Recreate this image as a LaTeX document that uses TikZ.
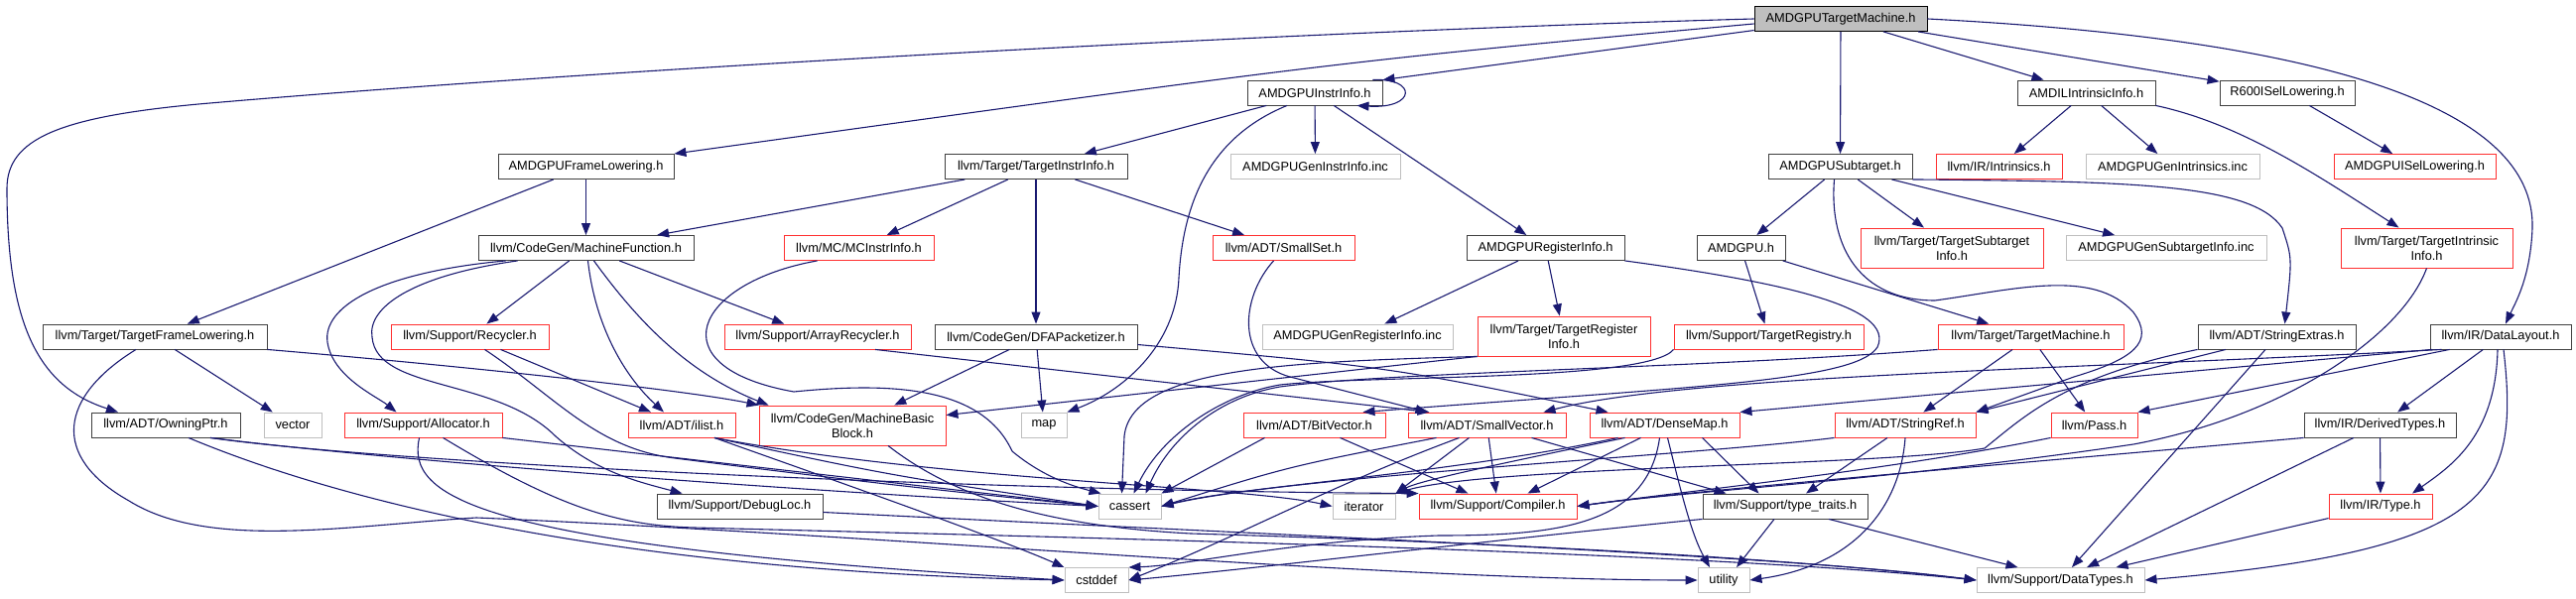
\documentclass[tikz,border=0pt]{standalone}
\usepackage{fontspec}
\setmainfont{Liberation Sans}
\usetikzlibrary{arrows.meta}

\definecolor{depblue}{HTML}{191970}
\definecolor{boxdark}{HTML}{404040}
\definecolor{boxgray}{HTML}{BFBFBF}
\definecolor{boxred}{HTML}{FF3030}

\tikzset{
  hdr/.style={draw=boxdark, fill=white, line width=0.9pt, minimum height=25pt, inner xsep=3pt, inner ysep=2pt,
    align=center, font=\fontsize{12.8}{15}\selectfont},
  hdrred/.style={hdr, draw=boxred},
  sys/.style={hdr, draw=boxgray},
  cur/.style={hdr, draw=black, fill=boxgray},
  tall/.style={minimum height=40pt},
  dep/.style={draw=depblue, line width=1.1pt, -{Triangle[length=12pt,width=9pt]}}
}

\begin{document}
\begin{tikzpicture}[x=1pt, y=-1pt]
  \useasboundingbox (0,0) rectangle (2596,604);

  \node[cur, minimum width=174pt] (tm) at (1855,19) {AMDGPUTargetMachine.h};

  \node[hdr, minimum width=136pt] (ii) at (1325,93.5) {AMDGPUInstrInfo.h};
  \node[hdr, minimum width=139pt] (amdil) at (2102.5,93.5) {AMDILIntrinsicInfo.h};
  \node[hdr, minimum width=136pt] (r600) at (2305,93.5) {R600ISelLowering.h};

  \node[hdr, minimum width=177pt] (fl) at (590.5,168) {AMDGPUFrameLowering.h};
  \node[hdr, minimum width=184pt] (tii) at (1044,168) {llvm/Target/TargetInstrInfo.h};
  \node[sys, minimum width=171pt] (geninstr) at (1325.5,168) {AMDGPUGenInstrInfo.inc};
  \node[hdr, minimum width=145pt] (st) at (1854.5,168) {AMDGPUSubtarget.h};
  \node[hdrred, minimum width=127pt] (intr) at (2014.5,168) {llvm/IR/Intrinsics.h};
  \node[sys, minimum width=175pt] (genintr) at (2189.5,168) {AMDGPUGenIntrinsics.inc};
  \node[hdrred, minimum width=163pt] (isel) at (2433.5,168) {AMDGPUISelLowering.h};

  \node[hdr, minimum width=217pt] (mf) at (590.5,250) {llvm/CodeGen/MachineFunction.h};
  \node[hdrred, minimum width=151pt] (mcii) at (865.5,250) {llvm/MC/MCInstrInfo.h};
  \node[hdrred, minimum width=143pt] (sset) at (1293.5,250) {llvm/ADT/SmallSet.h};
  \node[hdr, minimum width=159pt] (ri) at (1557.5,250) {AMDGPURegisterInfo.h};
  \node[hdr, minimum width=89pt] (amdgpu) at (1754.5,250) {AMDGPU.h};
  \node[hdrred, tall, minimum width=184pt] (tsi) at (1967,250) {llvm/Target/TargetSubtarget\\Info.h};
  \node[sys, minimum width=202pt] (gensub) at (2183,250) {AMDGPUGenSubtargetInfo.inc};
  \node[hdrred, tall, minimum width=173pt] (tintr) at (2445.5,250) {llvm/Target/TargetIntrinsic\\Info.h};

  \node[hdr, minimum width=226pt] (tfl) at (156,339.5) {llvm/Target/TargetFrameLowering.h};
  \node[hdrred, minimum width=159pt] (recy) at (473.5,339.5) {llvm/Support/Recycler.h};
  \node[hdrred, minimum width=188pt] (arec) at (824,339.5) {llvm/Support/ArrayRecycler.h};
  \node[hdr, minimum width=204pt] (dfa) at (1044,339.5) {llvm/CodeGen/DFAPacketizer.h};
  \node[sys, minimum width=192pt] (genreg) at (1368,339.5) {AMDGPUGenRegisterInfo.inc};
  \node[hdrred, tall, minimum width=174pt] (tri) at (1576,339) {llvm/Target/TargetRegister\\Info.h};
  \node[hdrred, minimum width=191pt] (treg) at (1782.5,339.5) {llvm/Support/TargetRegistry.h};
  \node[hdrred, minimum width=187pt] (tmach) at (2046.5,339.5) {llvm/Target/TargetMachine.h};
  \node[hdr, minimum width=159pt] (sext) at (2294.5,339.5) {llvm/ADT/StringExtras.h};
  \node[hdr, minimum width=142pt] (dl) at (2520,339.5) {llvm/IR/DataLayout.h};

  \node[hdr, minimum width=150pt] (owning) at (167,428.5) {llvm/ADT/OwningPtr.h};
  \node[sys, minimum width=58pt] (vector) at (295,428.5) {vector};
  \node[hdrred, minimum width=159pt] (alloc) at (426.5,428.5) {llvm/Support/Allocator.h};
  \node[hdrred, minimum width=108pt] (ilist) at (687,428.5) {llvm/ADT/ilist.h};
  \node[hdrred, tall, minimum width=188pt] (mbb) at (859,429) {llvm/CodeGen/MachineBasic\\Block.h};
  \node[sys, minimum width=46pt] (map) at (1052,428.5) {map};
  \node[hdrred, minimum width=143pt] (bitv) at (1324.5,428.5) {llvm/ADT/BitVector.h};
  \node[hdrred, minimum width=159pt] (svec) at (1498.5,428.5) {llvm/ADT/SmallVector.h};
  \node[hdrred, minimum width=151pt] (dmap) at (1677.5,428.5) {llvm/ADT/DenseMap.h};
  \node[hdrred, minimum width=142pt] (sref) at (1920,428.5) {llvm/ADT/StringRef.h};
  \node[hdrred, minimum width=87pt] (pass) at (2110.5,428.5) {llvm/Pass.h};
  \node[hdr, minimum width=153pt] (dtypes) at (2398.5,428.5) {llvm/IR/DerivedTypes.h};

  \node[hdr, minimum width=167pt] (dloc) at (745.5,510.5) {llvm/Support/DebugLoc.h};
  \node[sys, minimum width=63pt] (cassert) at (1138.5,510.5) {cassert};
  \node[sys, minimum width=63pt] (iter) at (1374.5,510.5) {iterator};
  \node[hdrred, minimum width=159pt] (comp) at (1509.5,510.5) {llvm/Support/Compiler.h};
  \node[hdr, minimum width=166pt] (ttraits) at (1799,510.5) {llvm/Support/type\_traits.h};
  \node[hdrred, minimum width=104pt] (type) at (2399,510.5) {llvm/IR/Type.h};

  \node[sys, minimum width=64pt] (cstddef) at (1105,585) {cstddef};
  \node[sys, minimum width=52pt] (utility) at (1737,585) {utility};
  \node[sys, minimum width=169pt] (datat) at (2076.5,585) {llvm/Support/DataTypes.h};

  \draw[dep] (tm.west) .. controls (1300,32) and (600,70) .. (200,105) .. controls (60,118) and (7,140) .. (7,190) .. controls (7,330) and (40,390) .. ([xshift=-48pt]owning.north);
  \draw[dep] ([yshift=-5pt]tm.west) .. controls (1350,62) .. (fl.north east);
  \draw[dep] (tm) -- (ii.north east);
  \draw[dep] (tm) -- (st);
  \draw[dep] (tm) -- (amdil);
  \draw[dep] (tm) -- (r600);
  \draw[dep] (tm.east) .. controls (2350,40) and (2555,110) .. (2552,230) .. controls (2550,280) and (2535,305) .. ([xshift=5pt]dl.north);
  \draw[dep] (fl) -- (mf);
  \draw[dep] (fl) -- (tfl);
  \draw[dep] ([xshift=-10pt]ii.north east) .. controls (1428,78) and (1428,110) .. ([xshift=-26pt]ii.south east);
  \draw[dep] (ii) -- (tii);
  \draw[dep] (ii) -- (geninstr);
  \draw[dep] (ii) -- (ri);
  \draw[dep] ([xshift=-28pt]ii.south) .. controls (1215,140) and (1192,210) .. (1188,280) .. controls (1185,350) and (1130,395) .. (map.north east);
  \draw[dep] (tii) -- (mf);
  \draw[dep] (tii) -- (mcii);
  \draw[dep] (tii) -- (sset);
  \draw[dep] (tii) -- (dfa);
  \draw[dep] (st) -- (amdgpu);
  \draw[dep] (st) -- (tsi);
  \draw[dep] (st) -- (gensub);
  \draw[dep] (st.south east) .. controls (2150,183) and (2270,185) .. (2300,230) .. controls (2310,260) .. ([xshift=8pt]sext.north);
  \draw[dep] ([xshift=-6pt]st.south) .. controls (1843,250) and (1875,303) .. (1950,303) .. controls (2030,292) and (2110,270) .. (2150,315) .. controls (2172,345) and (2150,362) .. (2090,380) -- (sref.north east);
  \draw[dep] (amdil) -- (intr);
  \draw[dep] (amdil) -- (genintr);
  \draw[dep] (amdil.south east) .. controls (2260,125) and (2340,180) .. ([xshift=-28pt]tintr.north);
  \draw[dep] (r600) -- (isel);
  \draw[dep] (mf) -- (recy);
  \draw[dep] (mf) -- (arec);
  \draw[dep] ([xshift=2pt]mf.south) .. controls (600,330) and (630,380) .. ([xshift=-18pt]ilist.north);
  \draw[dep] ([xshift=8pt]mf.south) .. controls (640,320) and (690,375) .. ([xshift=10pt]mbb.north west);
  \draw[dep] ([xshift=28pt]mf.south west) .. controls (380,275) and (325,310) .. (330,345) .. controls (335,380) and (380,400) .. ([xshift=-27pt]alloc.north);
  \draw[dep] ([xshift=40pt]mf.south west) .. controls (415,278) and (370,310) .. (375,340) .. controls (380,395) and (500,380) .. (560,440) .. controls (600,475) and (640,485) .. ([xshift=26pt]dloc.north west);
  \draw[dep] ([xshift=-42pt]mcii.south) .. controls (700,285) and (660,370) .. (800,395) .. controls (900,385) and (990,390) .. (1020,455) .. controls (1050,480) and (1080,490) .. ([xshift=-29pt]cassert.north);
  \draw[dep] ([xshift=-10pt]sset.south) .. controls (1250,300) and (1245,365) .. (1300,380) -- ([xshift=-60pt]svec.north);
  \draw[dep] (ri) -- (genreg);
  \draw[dep] (ri) -- (tri);
  \draw[dep] (ri.south east) .. controls (1800,285) and (1910,310) .. (1892,350) .. controls (1870,385) and (1700,390) .. ([xshift=49pt]bitv.north);
  \draw[dep] (amdgpu) -- (treg);
  \draw[dep] (amdgpu) -- (tmach);
  \draw[dep] (tintr.south) .. controls (2420,340) and (2300,420) .. (2150,448) .. controls (1900,485) and (1700,495) .. (comp.east);
  \draw[dep] (tfl.south east) .. controls (500,372) and (700,395) .. (mbb.north west);
  \draw[dep] (tfl) -- (vector);
  \draw[dep] ([xshift=-19pt]tfl.south) .. controls (60,400) and (50,460) .. (130,505) .. controls (210,555) and (350,530) .. (480,522) .. controls (900,540) and (1400,585) .. (utility.west);
  \draw[dep] (recy) -- (ilist);
  \draw[dep] ([xshift=15pt]recy.south) .. controls (560,400) and (600,452) .. (680,462) .. controls (900,490) and (1000,500) .. (cassert.west);
  \draw[dep] ([xshift=58pt]arec.south) -- ([xshift=-58pt]svec.north);
  \draw[dep] (dfa) -- (mbb);
  \draw[dep] (dfa) -- (map);
  \draw[dep] ([yshift=-8pt]dfa.east) .. controls (1400,370) .. ([xshift=-57pt]dmap.north);
  \draw[dep] (tri.south west) -- (mbb);
  \draw[dep] (tri.south west) .. controls (1300,365) and (1140,370) .. (1133,440) -- ([xshift=-8pt]cassert.north);
  \draw[dep] (treg.south west) .. controls (1660,385) and (1380,378) .. (1290,388) .. controls (1230,398) and (1170,440) .. ([xshift=4pt]cassert.north);
  \draw[dep] (tmach.south west) .. controls (1700,372) and (1400,375) .. (1290,390) .. controls (1230,400) and (1180,440) .. ([xshift=16pt]cassert.north);
  \draw[dep] (tmach) -- (sref);
  \draw[dep] (tmach) -- (pass);
  \draw[dep] (sext) -- (sref.north east);
  \draw[dep] (sext.south west) .. controls (2080,380) and (2040,420) .. (2000,452) .. controls (1900,470) and (1500,470) .. (iter.north east);
  \draw[dep] (sext) -- (datat);
  \draw[dep] ([xshift=2pt]dl.south west) -- (dmap.north east);
  \draw[dep] ([xshift=12pt]dl.south west) .. controls (2100,372) and (1700,378) .. ([xshift=57pt]svec.north);
  \draw[dep] ([xshift=20pt]dl.south west) -- (pass.north east);
  \draw[dep] (dl) -- (dtypes);
  \draw[dep] ([xshift=-3pt]dl.south) .. controls (2515,440) and (2470,470) .. ([xshift=32pt]type.north);
  \draw[dep] ([xshift=3pt]dl.south) .. controls (2540,500) and (2510,555) .. (datat.east);
  \draw[dep] (dtypes) -- (type);
  \draw[dep] (dtypes) -- (datat);
  \draw[dep] (dtypes.south west) .. controls (2000,470) and (1700,495) .. (comp.east);
  \draw[dep] (type) -- (datat);
  \draw[dep] (pass.south west) .. controls (1900,475) and (1700,495) .. (comp.east);
  \draw[dep] ([xshift=45pt]owning.south) .. controls (400,465) and (800,495) .. (cassert.west);
  \draw[dep] ([xshift=45pt]owning.south) .. controls (400,468) and (1000,495) .. (comp.north west);
  \draw[dep] ([xshift=23pt]owning.south) .. controls (330,500) and (600,575) .. (cstddef.west);
  \draw[dep] (alloc.south east) -- (cassert.west);
  \draw[dep] ([xshift=-4pt]alloc.south) .. controls (410,500) and (470,550) .. (cstddef.west);
  \draw[dep] ([xshift=20pt]alloc.south) .. controls (560,510) and (620,530) .. (700,532) .. controls (1000,540) and (1700,555) .. (datat.west);
  \draw[dep] ([xshift=33pt]ilist.south) .. controls (900,480) .. (cassert.west);
  \draw[dep] ([xshift=33pt]ilist.south) .. controls (800,470) and (1000,540) .. (cstddef.north west);
  \draw[dep] ([xshift=33pt]ilist.south) .. controls (950,485) and (1250,490) .. (iter.west);
  \draw[dep] ([xshift=36pt]mbb.south) .. controls (960,500) and (1050,530) .. (1200,538) .. controls (1600,550) and (1850,568) .. (datat.west);
  \draw[dep] ([yshift=-6pt]dloc.east) .. controls (1300,540) and (1800,560) .. (datat.west);
  \draw[dep] ([xshift=-50pt]bitv.south) -- (cassert.north east);
  \draw[dep] ([xshift=26pt]bitv.south) -- ([xshift=-30pt]comp.north);
  \draw[dep] ([xshift=-51pt]svec.south) .. controls (1300,470) .. (cassert.east);
  \draw[dep] ([xshift=-28pt]svec.south) .. controls (1340,490) and (1250,540) .. (cstddef.east);
  \draw[dep] ([xshift=-18pt]svec.south) -- (iter.north east);
  \draw[dep] (svec) -- (comp);
  \draw[dep] ([xshift=45pt]svec.south) -- ([xshift=24pt]ttraits.north west);
  \draw[dep] ([xshift=-47pt]dmap.south) .. controls (1450,480) and (1250,490) .. (cassert.east);
  \draw[dep] ([xshift=-40pt]dmap.south) .. controls (1500,470) and (1430,485) .. (iter.north east);
  \draw[dep] ([xshift=-24pt]dmap.south) -- ([xshift=30pt]comp.north);
  \draw[dep] ([xshift=-5pt]dmap.south) .. controls (1660,530) and (1570,540) .. (1450,540) .. controls (1300,545) and (1200,570) .. (cstddef.north east);
  \draw[dep] ([xshift=3pt]dmap.south) .. controls (1695,500) and (1705,540) .. ([xshift=-14pt]utility.north);
  \draw[dep] ([xshift=38pt]dmap.south) -- ([xshift=57pt]ttraits.north west);
  \draw[dep] (sref.south west) .. controls (1700,460) and (1300,480) .. (cassert.east);
  \draw[dep] ([xshift=-18pt]sref.south) -- ([xshift=21pt]ttraits.north);
  \draw[dep] (sref.south) .. controls (1915,510) and (1870,570) .. (utility.east);
  \draw[dep] ([xshift=-11pt]ttraits.south) -- ([xshift=13pt]utility.north);
  \draw[dep] ([xshift=44pt]ttraits.south) -- ([xshift=-43pt]datat.north);
  \draw[dep] (ttraits.south west) .. controls (1500,545) and (1250,575) .. (cstddef.east);
\end{tikzpicture}
\end{document}
